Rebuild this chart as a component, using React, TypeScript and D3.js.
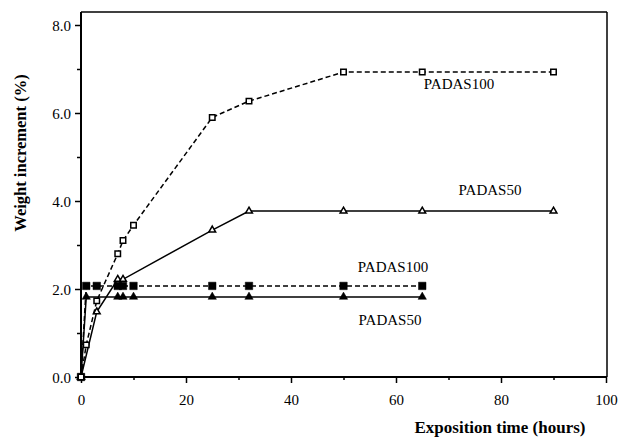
import React, { useRef, useEffect } from 'react';
import * as d3 from 'd3';

// hours of exposition
const timeOpen100 = [0, 1, 3, 7, 8, 10, 25, 32, 50, 65, 90];
const padas100Open = [0, 0.73, 1.73, 2.8, 3.1, 3.45, 5.9, 6.27, 6.93, 6.93, 6.93];
const timeOpen50 = [0, 3, 7, 8, 25, 32, 50, 65, 90];
const padas50Open = [0, 1.48, 2.22, 2.22, 3.34, 3.77, 3.77, 3.77, 3.77];

const timeFilled100 = [0, 1, 3, 7, 8, 10, 25, 32, 50, 65];
const padas100Filled = [0, 2.07, 2.07, 2.07, 2.07, 2.07, 2.07, 2.07, 2.07, 2.07];
const timeFilled50 = [0, 1, 7, 8, 10, 25, 32, 50, 65];
const padas50Filled = [0, 1.82, 1.82, 1.82, 1.82, 1.82, 1.82, 1.82, 1.82];

const xTicks = [0, 20, 40, 60, 80, 100];
const yTicks = [0, 2, 4, 6, 8];

const W = 618;
const H = 442;
const FONT = "Liberation Serif, DejaVu Serif, serif";

const App = () => {
    const svgRef = useRef<SVGSVGElement>(null);

    useEffect(() => {
        const svg = d3.select(svgRef.current);
        svg.selectAll("*").remove();

        const x = d3.scaleLinear().domain([0, 100]).range([81, 606]);
        const y = d3.scaleLinear().domain([0, 8]).range([377, 25]);

        // frame
        svg.append("line").attr("x1", 81).attr("x2", 607).attr("y1", 12).attr("y2", 12)
            .attr("stroke", "#000").attr("stroke-width", 1.5);
        svg.append("line").attr("x1", 607).attr("x2", 607).attr("y1", 12).attr("y2", 377)
            .attr("stroke", "#000").attr("stroke-width", 1.5);

        // axes
        const xAxis = d3.axisBottom(x).tickValues(d3.range(0, 101, 10)).tickSize(5)
            .tickFormat(d => (xTicks.includes(+d) ? String(d) : ""));
        const gx = svg.append("g").attr("transform", "translate(0,377)").call(xAxis);
        gx.attr("font-family", null);
        gx.select(".domain").attr("stroke-width", 2).attr("d", "M81,0H607");
        gx.selectAll(".tick line").attr("stroke-width", 1.5)
            .attr("y2", (d: any) => (xTicks.includes(+d) ? 6 : 3));
        gx.selectAll("text").style("font-family", FONT).style("font-size", "15px")
            .attr("fill", "#000").attr("dy", 0).attr("y", 28);

        const yAxis = d3.axisLeft(y).tickValues(d3.range(0, 8.01, 1)).tickSize(5)
            .tickFormat(d => (yTicks.includes(+d) ? d3.format(".1f")(+d) : ""));
        const gy = svg.append("g").attr("transform", "translate(81,0)").call(yAxis);
        gy.attr("font-family", null);
        gy.select(".domain").attr("stroke-width", 2).attr("d", "M0,12V377");
        gy.selectAll(".tick line").attr("stroke-width", 1.5)
            .attr("x2", (d: any) => (yTicks.includes(+d) ? -6 : -4));
        gy.selectAll("text").style("font-family", FONT).style("font-size", "15px")
            .attr("fill", "#000").attr("x", -10).attr("dy", "0.35em");

        const line = d3.line<[number, number]>().x(d => x(d[0])).y(d => y(d[1]));

        const drawSeries = (xs: number[], ys: number[], dashed: boolean, sym: d3.SymbolType, filled: boolean, size: number) => {
            const pts = xs.map((t, i) => [t, ys[i]] as [number, number]);
            svg.append("path").attr("d", line(pts)).attr("fill", "none")
                .attr("stroke", "#000").attr("stroke-width", 1.5)
                .attr("stroke-dasharray", dashed ? "5,3" : null);
            svg.append("g").selectAll("path").data(pts).enter().append("path")
                .attr("d", d3.symbol().type(sym).size(size)())
                .attr("transform", d => `translate(${x(d[0])},${y(d[1])})`)
                .attr("fill", filled ? "#000" : "#fff")
                .attr("stroke", "#000").attr("stroke-width", filled ? 0.5 : 1.5);
        };

        drawSeries(timeFilled100, padas100Filled, true, d3.symbolSquare, true, 56);
        drawSeries(timeFilled50, padas50Filled, false, d3.symbolTriangle, true, 30);
        drawSeries(timeOpen50, padas50Open, false, d3.symbolTriangle, false, 20);
        drawSeries(timeOpen100, padas100Open, true, d3.symbolSquare, false, 30);

        const label = (t: string, cx: number, by: number) =>
            svg.append("text").attr("x", cx).attr("y", by).attr("text-anchor", "middle")
                .style("font-family", FONT).style("font-size", "15px").text(t);
        label("PADAS100", 459, 89);
        label("PADAS50", 490, 195);
        label("PADAS100", 393, 272);
        label("PADAS50", 390, 325);

        svg.append("text").attr("x", 500).attr("y", 433).attr("text-anchor", "middle")
            .style("font-family", FONT).style("font-size", "17px").style("font-weight", "bold")
            .text("Exposition time (hours)");
        svg.append("text").attr("transform", "translate(26,153) rotate(-90)")
            .attr("text-anchor", "middle")
            .style("font-family", FONT).style("font-size", "16.5px").style("font-weight", "bold")
            .text("Weight increment (%)");
    }, []);

    return (
        <svg ref={svgRef} width={W} height={H}
            style={{ position: "absolute", left: 0, top: 0, background: "#fff" }} />
    );
};

export default App;
